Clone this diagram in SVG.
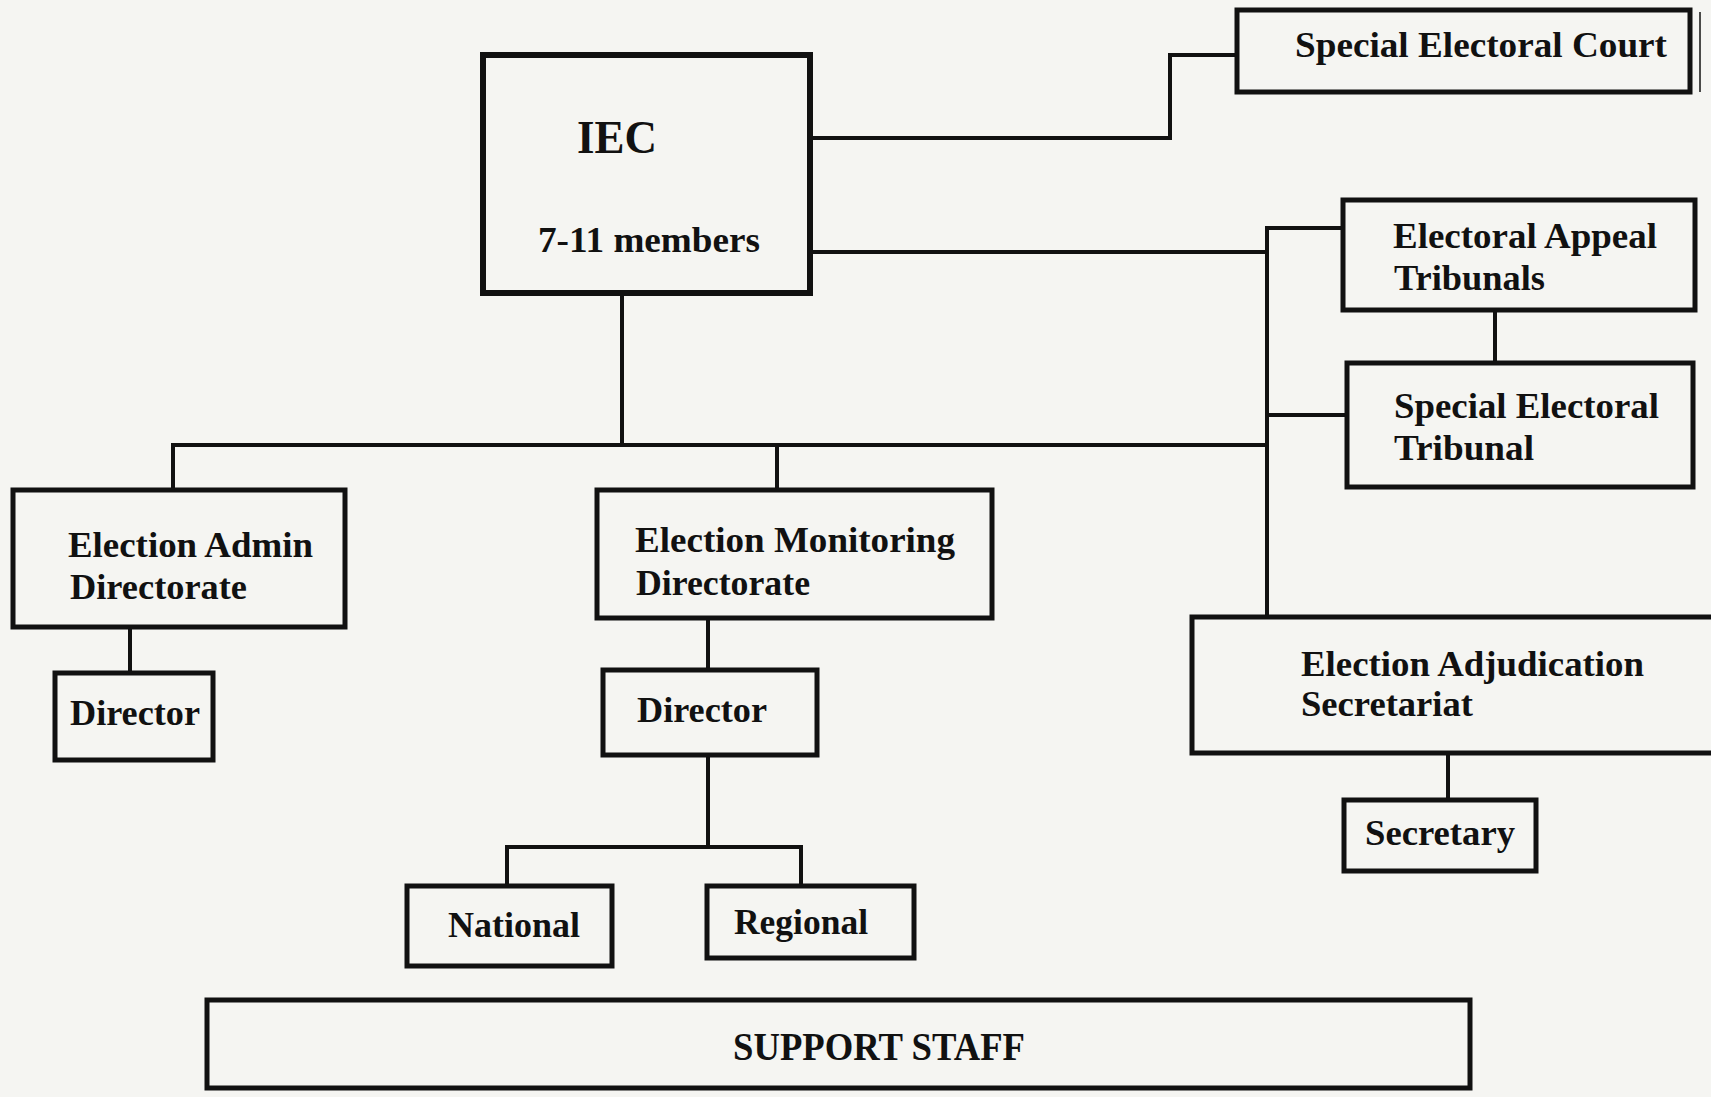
<svg xmlns="http://www.w3.org/2000/svg" width="1711" height="1097" viewBox="0 0 1711 1097">
<style>
.box{fill:none;stroke:#111;stroke-width:5;stroke-linejoin:miter}
.ln{fill:none;stroke:#111;stroke-width:4;stroke-linecap:square}
.t{font-family:"Liberation Serif","Times New Roman",serif;font-weight:bold;font-size:36px;fill:#111}
</style>
<rect x="0" y="0" width="1711" height="1097" fill="#f5f5f2"/>
<g id="connectors">
<polyline class="ln" points="622,295 622,445"/>
<polyline class="ln" points="173,490 173,445 1267,445"/>
<polyline class="ln" points="777,445 777,490"/>
<polyline class="ln" points="1343,228 1267,228 1267,617"/>
<polyline class="ln" points="1267,415 1347,415"/>
<polyline class="ln" points="810,138 1170,138 1170,55 1237,55"/>
<polyline class="ln" points="810,252 1267,252"/>
<polyline class="ln" points="1495,310 1495,363"/>
<polyline class="ln" points="130,627 130,673"/>
<polyline class="ln" points="708,618 708,670"/>
<polyline class="ln" points="708,755 708,847"/>
<polyline class="ln" points="507,886 507,847 801,847 801,886"/>
<polyline class="ln" points="1448,753 1448,800"/>
</g>
<g id="iec">
<rect class="box" x="483" y="55" width="327" height="238" style="stroke-width:6"/>
<text class="t" x="577" y="153" style="font-size:46px" textLength="80" lengthAdjust="spacingAndGlyphs">IEC</text>
<text class="t" x="538" y="252" textLength="222" lengthAdjust="spacingAndGlyphs">7-11 members</text>
</g>
<g id="special-electoral-court">
<rect class="box" x="1237" y="10" width="453" height="82"/>
<line x1="1700" y1="12" x2="1700" y2="92" stroke="#111" stroke-width="1.5"/>
<text class="t" x="1295" y="57" textLength="372" lengthAdjust="spacingAndGlyphs">Special Electoral Court</text>
</g>
<g id="electoral-appeal-tribunals">
<rect class="box" x="1343" y="200" width="352" height="110"/>
<text class="t" x="1393" y="248" textLength="264" lengthAdjust="spacingAndGlyphs">Electoral Appeal</text>
<text class="t" x="1394" y="290" textLength="151" lengthAdjust="spacingAndGlyphs">Tribunals</text>
</g>
<g id="special-electoral-tribunal">
<rect class="box" x="1347" y="363" width="346" height="124"/>
<text class="t" x="1394" y="418" textLength="265" lengthAdjust="spacingAndGlyphs">Special Electoral</text>
<text class="t" x="1394" y="460" textLength="140" lengthAdjust="spacingAndGlyphs">Tribunal</text>
</g>
<g id="election-admin-directorate">
<rect class="box" x="13" y="490" width="332" height="137"/>
<text class="t" x="68" y="557" textLength="245" lengthAdjust="spacingAndGlyphs">Election Admin</text>
<text class="t" x="70" y="599" textLength="177" lengthAdjust="spacingAndGlyphs">Directorate</text>
</g>
<g id="admin-director">
<rect class="box" x="55" y="673" width="158" height="87"/>
<text class="t" x="70" y="725" textLength="130" lengthAdjust="spacingAndGlyphs">Director</text>
</g>
<g id="election-monitoring-directorate">
<rect class="box" x="597" y="490" width="395" height="128"/>
<text class="t" x="635" y="552" textLength="320" lengthAdjust="spacingAndGlyphs">Election Monitoring</text>
<text class="t" x="636" y="595" textLength="174" lengthAdjust="spacingAndGlyphs">Directorate</text>
</g>
<g id="monitoring-director">
<rect class="box" x="603" y="670" width="214" height="85"/>
<text class="t" x="637" y="722" textLength="130" lengthAdjust="spacingAndGlyphs">Director</text>
</g>
<g id="national">
<rect class="box" x="407" y="886" width="205" height="80"/>
<text class="t" x="448" y="937" textLength="132" lengthAdjust="spacingAndGlyphs">National</text>
</g>
<g id="regional">
<rect class="box" x="707" y="886" width="207" height="72"/>
<text class="t" x="734" y="934" textLength="134" lengthAdjust="spacingAndGlyphs">Regional</text>
</g>
<g id="election-adjudication-secretariat">
<rect class="box" x="1192" y="617" width="540" height="136"/>
<text class="t" x="1301" y="676" textLength="343" lengthAdjust="spacingAndGlyphs">Election Adjudication</text>
<text class="t" x="1301" y="716" textLength="172" lengthAdjust="spacingAndGlyphs">Secretariat</text>
</g>
<g id="secretary">
<rect class="box" x="1344" y="800" width="192" height="71"/>
<text class="t" x="1365" y="845" textLength="150" lengthAdjust="spacingAndGlyphs">Secretary</text>
</g>
<g id="support-staff">
<rect class="box" x="207" y="1000" width="1263" height="88"/>
<text class="t" x="733" y="1060" style="font-size:40px" textLength="292" lengthAdjust="spacingAndGlyphs">SUPPORT STAFF</text>
</g>
</svg>
